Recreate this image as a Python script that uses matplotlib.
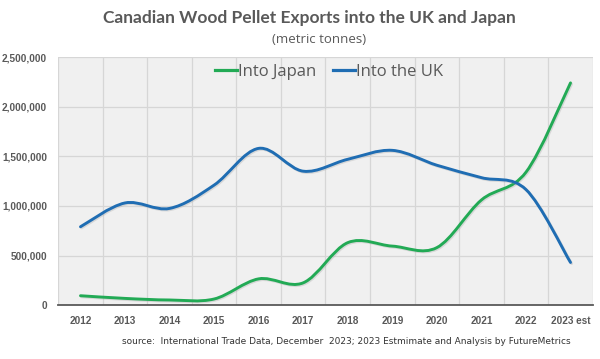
#Canadian wood pellet exports, UK vs Japan
import numpy as np
import matplotlib.pyplot as plt
from matplotlib.path import Path
from matplotlib.patches import PathPatch
from matplotlib.lines import Line2D
import matplotlib.patheffects as pe

#dados
years = ['2012', '2013', '2014', '2015', '2016', '2017', '2018', '2019', '2020', '2021', '2022', '2023 est']
japan = [95000, 68000, 52000, 62000, 265000, 225000, 630000, 595000, 580000, 1060000, 1340000, 2240000]
uk = [790000, 1030000, 975000, 1210000, 1580000, 1350000, 1470000, 1560000, 1410000, 1285000, 1165000, 430000]
series_names = ['Into Japan', 'Into the UK']
colors = ['#22aa55', '#1f6db3']
grey = '#595959'

def smooth_path(xs, ys):
    #curva suave tipo Excel (Catmull-Rom como Bezier cúbica)
    p = np.column_stack([xs, ys]).astype(float)
    ext = np.vstack([p[0], p, p[-1]])
    verts = [tuple(p[0])]
    codes = [Path.MOVETO]
    for i in range(len(p) - 1):
        p0, p1, p2, p3 = ext[i], ext[i + 1], ext[i + 2], ext[i + 3]
        c1 = p1 + (p2 - p0) / 6
        c2 = p2 - (p3 - p1) / 6
        verts += [tuple(c1), tuple(c2), tuple(p2)]
        codes += [Path.CURVE4] * 3
    return Path(verts, codes)

fig = plt.figure(figsize=(6, 3.59), dpi=100)
ax = fig.add_axes([0.097, 0.150, 0.891, 0.691])
ax.set_facecolor('#f0f0f0')

x = np.arange(len(years))
for vals, c in [(japan, colors[0]), (uk, colors[1])]:
    patch = PathPatch(smooth_path(x, vals), fill=False, edgecolor=c, lw=2.1, capstyle='round')
    patch.set_path_effects([pe.SimpleLineShadow(offset=(0.8, -0.8), shadow_color='#aaaaaa', alpha=0.35),
                            pe.Normal()])
    ax.add_patch(patch)

ax.set_xlim(-0.5, len(years) - 0.5)
ax.set_ylim(0, 2500000)
ax.set_yticks(np.arange(0, 2500001, 500000))
ax.set_yticklabels(['0' if v == 0 else f'{v:,}' for v in range(0, 2500001, 500000)])
ax.set_xticks(x)
ax.set_xticklabels(years)
ax.set_xticks(np.arange(-0.5, len(years)), minor=True)
ax.grid(True, which='minor', axis='x', color='#d6d6d6', lw=0.9)
ax.grid(True, which='major', axis='y', color='#d6d6d6', lw=0.9)
ax.set_axisbelow(True)
ax.tick_params(which='both', length=0)
ax.tick_params(axis='y', pad=8)
ax.tick_params(axis='x', pad=8)
for lab in ax.get_xticklabels() + ax.get_yticklabels():
    lab.set_fontfamily('Liberation Sans')
    lab.set_fontweight('bold')
    lab.set_fontsize(7.2)
    lab.set_color(grey)
for s in ['top', 'left', 'right']:
    ax.spines[s].set_visible(False)
ax.spines['bottom'].set_color(grey)
ax.spines['bottom'].set_linewidth(1.3)

handles = [Line2D([], [], color=c, lw=2.3) for c in colors]
leg = ax.legend(handles, series_names, loc='center', bbox_to_anchor=(0.507, 0.94), ncol=2,
                frameon=False, handlelength=1.3, handletextpad=0.1, columnspacing=1.0,
                prop={'family': 'Open Sans', 'size': 12})
for t in leg.get_texts():
    t.set_color(grey)

fig.text(0.515, 0.95, 'Canadian Wood Pellet Exports into the UK and Japan', ha='center', va='center',
         fontsize=12.5, fontweight='bold', color=grey, family='Lato')
fig.text(0.532, 0.89, '(metric tonnes)', ha='center', va='center', fontsize=9.5, color=grey, family='Open Sans')
fig.text(0.577, 0.05, 'source:  International Trade Data, December  2023; 2023 Estmimate and Analysis by FutureMetrics',
         ha='center', va='center', fontsize=6.5, color='#333333', family='DejaVu Sans')

fig.savefig('out.png', dpi=100, facecolor='white')
